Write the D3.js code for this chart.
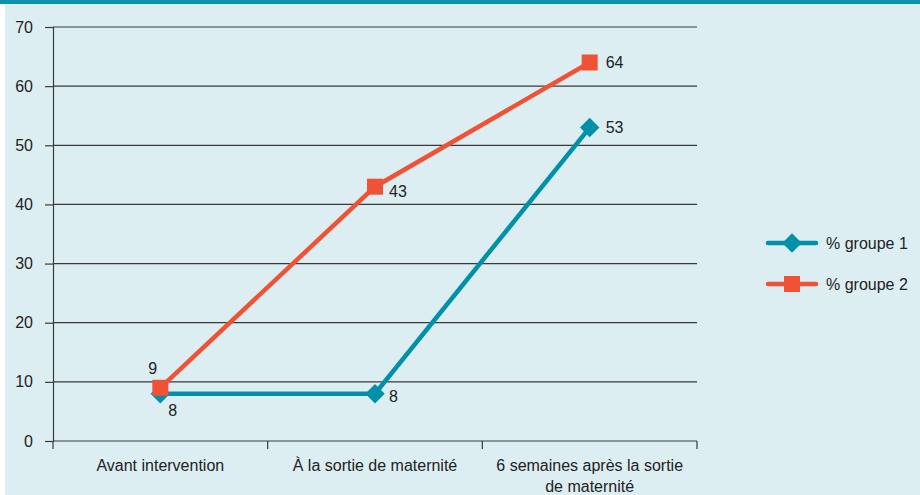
<!DOCTYPE html>
<html>
<head>
<meta charset="utf-8">
<script src="https://cdn.jsdelivr.net/npm/d3@7"></script>
<style>
  body { margin: 0; background: #fff; }
  svg text { font-family: "Liberation Sans", Arial, sans-serif; fill: #222; }
</style>
</head>
<body>
<div id="chart"></div>
<script>
// data
var categories = ["Avant intervention", "À la sortie de maternité", "6 semaines après la sortie de maternité"];
var groupe1 = [8, 8, 53];
var groupe2 = [9, 43, 64];
var yTicks = [0, 10, 20, 30, 40, 50, 60, 70];
var seriesNames = ["% groupe 1", "% groupe 2"];

var W = 920, H = 495,
    margin = {t: 27, l: 53, r: 223, b: 54},
    w = W - margin.l - margin.r,
    h = H - margin.t - margin.b;

var teal = "#0091a9", red = "#f15235";

var svg = d3.select("#chart").append("svg")
  .attr("width", W).attr("height", H);

// background + top band
svg.append("rect").attr("x", 5).attr("y", 0).attr("width", W - 5).attr("height", H).attr("fill", "#ddeef3");
svg.append("rect").attr("x", 0).attr("y", 0).attr("width", W).attr("height", 4).attr("fill", "#0a93aa");

var x = d3.scaleBand().domain(categories).range([0, w]);
var y = d3.scaleLinear().domain([0, 70]).range([h, 0]);

var g = svg.append("g").attr("transform", "translate(" + margin.l + "," + margin.t + ")");

// gridlines
g.selectAll(".grid").data(yTicks.slice(1)).enter().append("line")
  .attr("x1", 0).attr("x2", w)
  .attr("y1", function(d) { return y(d); }).attr("y2", function(d) { return y(d); })
  .attr("stroke", "#3a3a3a").attr("stroke-width", 1.2);

// y axis
var yAxis = d3.axisLeft(y).tickValues(yTicks).tickSize(8).tickPadding(12);
var ya = g.append("g").call(yAxis);
ya.select(".domain").attr("stroke", "#3a3a3a").attr("stroke-width", 1.2);
ya.selectAll(".tick line").attr("stroke", "#3a3a3a").attr("stroke-width", 1.2);
ya.selectAll("text").style("font-size", "16px").attr("fill", "#222");

// x axis
var xa = g.append("g").attr("transform", "translate(0," + h + ")");
xa.append("line").attr("x1", 0).attr("x2", w).attr("stroke", "#3a3a3a").attr("stroke-width", 1.2);
var bounds = [0].concat(categories.map(function(c) { return x(c) + x.bandwidth(); }));
xa.selectAll(".xt").data(bounds).enter().append("line")
  .attr("x1", function(d) { return d; }).attr("x2", function(d) { return d; })
  .attr("y1", 0).attr("y2", 8).attr("stroke", "#3a3a3a").attr("stroke-width", 1.2);

var xlabels = [["Avant intervention"], ["À la sortie de maternité"], ["6 semaines après la sortie", "de maternité"]];
categories.forEach(function(c, i) {
  var t = xa.append("text").attr("text-anchor", "middle")
    .attr("x", x(c) + x.bandwidth() / 2).attr("y", 30)
    .style("font-size", "16px");
  xlabels[i].forEach(function(s, j) {
    t.append("tspan").attr("x", x(c) + x.bandwidth() / 2).attr("dy", j === 0 ? 0 : 21).text(s);
  });
});

var cx = function(i) { return x(categories[i]) + x.bandwidth() / 2; };
var line = d3.line().x(function(d, i) { return cx(i); }).y(function(d) { return y(d); });

// series lines
g.append("path").datum(groupe1).attr("d", line).attr("fill", "none")
  .attr("stroke", teal).attr("stroke-width", 4.5);
g.append("path").datum(groupe2).attr("d", line).attr("fill", "none")
  .attr("stroke", red).attr("stroke-width", 4.5);

// markers
var diamond = d3.symbol().type(d3.symbolSquare).size(190);
g.selectAll(".m1").data(groupe1).enter().append("path")
  .attr("d", diamond)
  .attr("transform", function(d, i) { return "translate(" + cx(i) + "," + y(d) + ") rotate(45)"; })
  .attr("fill", teal);
g.selectAll(".m2").data(groupe2).enter().append("rect")
  .attr("x", function(d, i) { return cx(i) - 8; })
  .attr("y", function(d) { return y(d) - 8; })
  .attr("width", 16).attr("height", 16)
  .attr("fill", red);

// value labels
var off1 = [[8, 22], [14, 8], [16, 5]];
var off2 = [[-12, -14], [14, 10], [16, 6]];
g.selectAll(".l1").data(groupe1).enter().append("text")
  .attr("x", function(d, i) { return cx(i) + off1[i][0]; })
  .attr("y", function(d, i) { return y(d) + off1[i][1]; })
  .style("font-size", "16px")
  .text(function(d) { return d; });
g.selectAll(".l2").data(groupe2).enter().append("text")
  .attr("x", function(d, i) { return cx(i) + off2[i][0]; })
  .attr("y", function(d, i) { return y(d) + off2[i][1]; })
  .style("font-size", "16px")
  .text(function(d) { return d; });

// legend
var leg = svg.append("g").attr("transform", "translate(768,243)");
[teal, red].forEach(function(col, i) {
  var ly = i * 41;
  leg.append("line").attr("x1", 0).attr("x2", 48).attr("y1", ly).attr("y2", ly)
    .attr("stroke", col).attr("stroke-width", 4.5).attr("stroke-linecap", "round");
  if (i === 0) {
    leg.append("path").attr("d", diamond).attr("transform", "translate(24," + ly + ") rotate(45)").attr("fill", col);
  } else {
    leg.append("rect").attr("x", 16).attr("y", ly - 8).attr("width", 16).attr("height", 16).attr("fill", col);
  }
  leg.append("text").attr("x", 58).attr("y", ly + 6).style("font-size", "16px").text(seriesNames[i]);
});
</script>
</body>
</html>
